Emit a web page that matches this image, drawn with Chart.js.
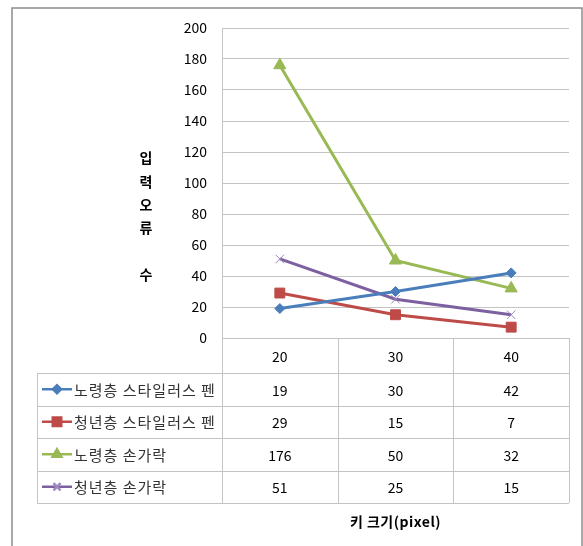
<!DOCTYPE html>
<html>
<head>
<meta charset="utf-8">
<script src="https://cdn.jsdelivr.net/npm/chart.js@4"></script>
<style>
  html, body { margin: 0; padding: 0; background: #fff; }
  canvas { display: block; }
</style>
</head>
<body>
<canvas id="chart" width="583" height="546"></canvas>
<script>
// Key sizes (pixel) along the category axis
const keySizes = ['20', '30', '40'];

// Input error counts per group
const seniorStylus = [19, 30, 42];
const youthStylus = [29, 15, 7];
const seniorFinger = [176, 50, 32];
const youthFinger = [51, 25, 15];

const seriesNames = ['노령층 스타일러스 펜', '청년층 스타일러스 펜', '노령층 손가락', '청년층 손가락'];

// Value axis range
const yMin = 0;
const yMax = 200;
const yStep = 20;

const yTitleChars = ['입', '력', '오', '류', '', '수'];
const xTitle = '키 크기(pixel)';

const FONT = '"Noto Sans CJK KR", "Noto Sans", sans-serif';
const GRID = '#C4C4C4';

const series = [
  { label: seriesNames[0], data: seniorStylus, color: '#4A7EBB', style: 'rectRot', r: 5, legendR: 4, pbw: 1, pbc: '#4A7EBB' },
  { label: seriesNames[1], data: youthStylus, color: '#BE4B48', style: 'rect', r: 7, legendR: 6, pbw: 1, pbc: '#BE4B48' },
  { label: seriesNames[2], data: seniorFinger, color: '#98B954', style: 'triangle', r: 7, legendR: 5, pbw: 1, pbc: '#98B954' },
  { label: seriesNames[3], data: youthFinger, color: '#7D60A0', style: 'crossRot', r: 6, legendR: 5, pbw: 1, pbc: '#9E89BE' }
];

// Outer frame of the chart object
const framePlugin = {
  id: 'frame',
  beforeDraw(chart) {
    const ctx = chart.ctx;
    ctx.save();
    ctx.fillStyle = '#fff';
    ctx.fillRect(0, 0, chart.width, chart.height);
    ctx.strokeStyle = '#8C8C8C';
    ctx.lineWidth = 1.5;
    ctx.strokeRect(12, 8, 570, 600);
    ctx.restore();
  }
};

// Data table under the plot, vertical axis title and category axis title
const tablePlugin = {
  id: 'dataTable',
  afterDraw(chart) {
    const ctx = chart.ctx;
    const area = chart.chartArea;
    const xs = chart.scales.x;
    const n = keySizes.length;
    const colW = (area.right - area.left) / n;
    const tableLeft = 37;
    const headH = 35;
    const rowH = 32.5;
    const top = area.bottom;
    const headBottom = top + headH;
    const bottom = headBottom + rowH * series.length;

    ctx.save();
    ctx.strokeStyle = GRID;
    ctx.lineWidth = 1;
    const px = v => Math.round(v) + 0.5;

    // horizontal rules
    ctx.beginPath();
    for (let i = 0; i <= series.length; i++) {
      const y = px(headBottom + rowH * i);
      ctx.moveTo(tableLeft, y);
      ctx.lineTo(area.right, y);
    }
    // vertical rules
    ctx.moveTo(px(tableLeft), headBottom);
    ctx.lineTo(px(tableLeft), bottom);
    ctx.moveTo(px(area.left), top);
    ctx.lineTo(px(area.left), bottom);
    for (let i = 1; i <= n; i++) {
      const x = px(area.left + colW * i);
      ctx.moveTo(x, top);
      ctx.lineTo(x, bottom);
    }
    ctx.stroke();

    // header: key sizes
    ctx.fillStyle = '#000';
    ctx.font = '14px ' + FONT;
    ctx.textAlign = 'center';
    ctx.textBaseline = 'middle';
    keySizes.forEach((k, i) => {
      ctx.fillText(k, xs.getPixelForValue(i), top + headH / 2 + 1);
    });

    // rows
    series.forEach((s, r) => {
      const cy = headBottom + rowH * r + rowH / 2 + 1;
      // legend sample
      ctx.strokeStyle = s.color;
      ctx.lineWidth = 2.5;
      ctx.beginPath();
      ctx.moveTo(42, cy - 1);
      ctx.lineTo(72, cy - 1);
      ctx.stroke();
      ctx.fillStyle = s.color;
      ctx.strokeStyle = s.pbc;
      Chart.helpers.drawPoint(ctx, { pointStyle: s.style, rotation: 0, radius: s.legendR, borderWidth: 1 }, 57, cy - 1);

      ctx.fillStyle = '#333';
      ctx.font = '15px ' + FONT;
      ctx.letterSpacing = '1px';
      ctx.textAlign = 'left';
      ctx.fillText(s.label, 74, cy);
      ctx.letterSpacing = '0px';

      ctx.fillStyle = '#000';
      ctx.font = '14px ' + FONT;
      ctx.textAlign = 'center';
      s.data.forEach((v, i) => {
        ctx.fillText(String(v), xs.getPixelForValue(i), cy);
      });
    });

    // vertical axis title, one character per line
    ctx.font = 'bold 14px ' + FONT;
    ctx.fillStyle = '#000';
    ctx.textAlign = 'center';
    yTitleChars.forEach((c, i) => {
      if (c) ctx.fillText(c, 146, 158 + i * 23.3);
    });

    // category axis title
    ctx.letterSpacing = '0.5px';
    ctx.fillText(xTitle, (area.left + area.right) / 2, 522);
    ctx.restore();
  }
};

new Chart(document.getElementById('chart'), {
  type: 'line',
  data: {
    labels: keySizes,
    datasets: series.map(s => ({
      label: s.label,
      data: s.data,
      borderColor: s.color,
      backgroundColor: s.color,
      borderWidth: 3,
      pointStyle: s.style,
      pointRadius: s.r,
      pointBorderWidth: s.pbw,
      pointBorderColor: s.pbc,
      pointBackgroundColor: s.color,
      tension: 0,
      fill: false
    }))
  },
  options: {
    responsive: false,
    animation: false,
    devicePixelRatio: 1,
    layout: { padding: { left: 0, right: 14, top: 28, bottom: 208 } },
    plugins: { legend: { display: false }, tooltip: { enabled: false } },
    scales: {
      x: { type: 'category', display: false, offset: true },
      y: {
        min: yMin,
        max: yMax,
        ticks: { stepSize: yStep, padding: 15, color: '#000', font: { family: FONT, size: 14 } },
        grid: { color: GRID, lineWidth: 1, drawTicks: false },
        border: { color: GRID, width: 1 },
        afterFit(scale) { scale.width = 222; }
      }
    }
  },
  plugins: [framePlugin, tablePlugin]
});
</script>
</body>
</html>
